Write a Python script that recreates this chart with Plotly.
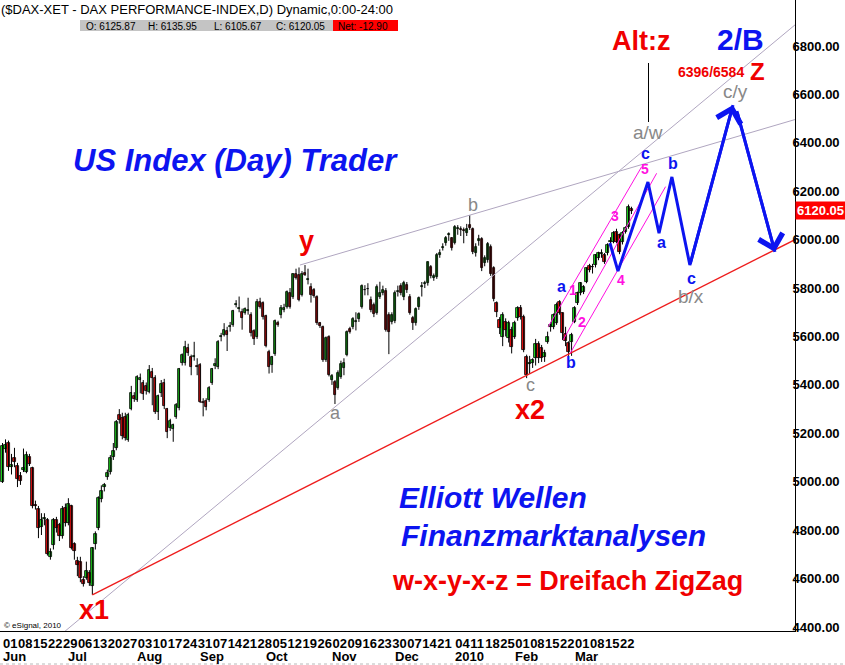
import pandas as pd
import plotly.graph_objects as go

FONT = "Arial, 'Liberation Sans', sans-serif"
GREEN = "#1ee01e"
RED = "#ec1010"
BLUE = "#0c14f0"
TRED = "#f00000"
GREY = "#888888"
MAG = "#ff10e0"
LINEGREY = "#b0a6c0"

# ---------------- data ----------------
holidays = {"2009-12-24", "2009-12-25", "2009-12-31", "2010-01-01"}
dates = [d.strftime("%Y-%m-%d") for d in pd.bdate_range("2009-06-01", "2010-03-26")
         if d.strftime("%Y-%m-%d") not in holidays]

opens = [
5001,5135,5158,5060,5098,5066,5024,5050,5042,5104,
5056,4905,4888,4815,4848,4843,4690,4739,4840,4822,
4774,4891,4829,4898,4742,4672,4670,4595,4601,4622,
4571,4742,4808,4928,4980,5021,5042,5104,5138,5275,
5262,5269,5172,5299,5354,5338,5420,5409,5396,5372,
5455,5427,5289,5365,5407,5299,5221,5218,5269,5303,
5489,5489,5551,5517,5515,5480,5482,5330,5335,5338,
5407,5478,5473,5598,5606,5623,5638,5647,5730,5713,
5700,5696,5707,5689,5624,5599,5744,5737,5685,5537,
5482,5526,5657,5689,5709,5723,5781,5764,5857,5854,
5771,5864,5834,5806,5792,5764,5654,5640,5503,5599,
5420,5413,5386,5434,5471,5524,5630,5640,5658,5671,
5723,5790,5797,5751,5730,5695,5764,5780,5789,5689,
5661,5665,5785,5808,5764,5812,5764,5675,5654,5720,
5805,5816,5819,5888,5840,5844,5938,5965,5985,6020,
6005,5985,6045,6042,6040,6026,6060,6043,5943,5995,
6001,5905,5916,5971,5881,5737,5668,5599,5661,5592,
5627,5599,5675,5716,5679,5517,5485,5492,5510,5569,
5551,5517,5578,5640,5640,5654,5744,5695,5610,5572,
5578,5661,5737,5778,5785,5826,5891,5885,5895,5923,
5940,5936,5943,5990,5992,6033,6019,5992,6033,6053,
6125.87]

highs = [
5160,5175,5170,5115,5140,5078,5040,5137,5125,5115,
5062,4922,4900,4870,4870,4850,4725,4850,4855,4830,
4900,4910,4932,4905,4750,4690,4690,4610,4670,4635,
4730,4795,4940,4985,4995,5050,5110,5160,5255,5300,
5285,5285,5285,5396,5370,5440,5447,5420,5410,5482,
5470,5440,5360,5420,5425,5305,5260,5240,5325,5470,
5530,5582,5570,5525,5578,5510,5490,5345,5345,5395,
5470,5510,5585,5615,5655,5640,5660,5710,5750,5765,
5715,5720,5760,5700,5630,5755,5760,5745,5690,5545,
5520,5670,5665,5730,5735,5790,5800,5862,5880,5885,
5870,5895,5880,5820,5800,5770,5660,5645,5600,5605,
5445,5420,5460,5500,5510,5625,5640,5680,5700,5700,
5815,5812,5820,5765,5740,5815,5826,5810,5800,5700,
5700,5790,5810,5820,5830,5825,5775,5685,5720,5765,
5825,5830,5910,5895,5860,5945,5960,5985,6015,6030,
6010,6060,6060,6055,6050,6065,6101,6050,5985,6020,
6010,5935,5990,5980,5890,5745,5680,5700,5675,5665,
5640,5665,5725,5730,5690,5525,5520,5510,5590,5580,
5565,5545,5620,5660,5695,5740,5750,5700,5640,5580,
5615,5725,5785,5825,5812,5885,5900,5900,5940,5950,
5960,5945,5985,6010,6035,6045,6025,6035,6055,6145,
6135.95]

lows = [
4995,5120,5045,5030,5060,4978,4987,5040,5035,5065,
4890,4885,4767,4780,4820,4695,4678,4720,4790,4755,
4765,4815,4820,4720,4678,4610,4585,4567,4595,4570,
4533,4720,4800,4915,4960,5008,5030,5090,5130,5240,
5175,5170,5165,5295,5330,5330,5365,5338,5360,5365,
5316,5280,5255,5350,5300,5180,5210,5165,5260,5295,
5480,5480,5520,5440,5500,5440,5325,5270,5295,5330,
5400,5465,5465,5580,5600,5540,5620,5640,5720,5700,
5628,5690,5690,5600,5565,5590,5715,5670,5555,5447,
5450,5520,5640,5675,5700,5715,5715,5755,5835,5745,
5765,5850,5815,5740,5760,5648,5635,5495,5495,5435,
5400,5321,5380,5425,5440,5518,5612,5630,5625,5660,
5715,5770,5770,5700,5680,5690,5755,5770,5620,5527,
5650,5655,5765,5770,5750,5780,5690,5627,5645,5710,
5765,5800,5810,5840,5830,5838,5925,5955,5975,5995,
5955,5980,6020,6015,5985,6015,6040,5940,5930,5975,
5870,5890,5905,5850,5745,5680,5610,5560,5600,5575,
5530,5590,5665,5670,5535,5428,5445,5470,5480,5490,
5495,5495,5570,5620,5630,5648,5690,5585,5560,5520,
5520,5655,5730,5770,5775,5820,5865,5860,5885,5915,
5925,5900,5935,5970,5985,5985,5940,5980,6025,6045,
6105.67]

closes = [
5148,5150,5060,5068,5082,5011,5005,5058,5111,5074,
4898,4898,4808,4843,4852,4701,4708,4843,4808,4774,
4887,4829,4907,4726,4716,4658,4601,4578,4632,4581,
4726,4783,4932,4962,4985,5035,5097,5125,5248,5255,
5187,5180,5276,5365,5340,5431,5427,5362,5376,5462,
5427,5289,5354,5404,5314,5207,5252,5234,5317,5464,
5524,5558,5530,5475,5521,5475,5331,5327,5307,5386,
5464,5485,5579,5604,5627,5606,5643,5705,5735,5717,
5675,5712,5710,5613,5588,5744,5723,5682,5561,5475,
5514,5664,5647,5719,5716,5785,5723,5857,5840,5751,
5858,5854,5838,5771,5767,5654,5643,5503,5592,5441,
5437,5358,5448,5486,5489,5620,5620,5671,5663,5693,
5808,5794,5795,5709,5693,5806,5778,5790,5627,5620,
5689,5778,5789,5781,5819,5792,5696,5654,5712,5757,
5810,5820,5906,5850,5850,5937,5943,5970,6005,6024,
5964,6051,6048,6038,6036,6043,6047,5950,5971,6001,
5881,5923,5980,5858,5753,5702,5636,5690,5627,5654,
5558,5657,5716,5682,5544,5441,5490,5503,5569,5510,
5510,5530,5599,5647,5689,5730,5695,5613,5580,5537,
5606,5716,5778,5819,5806,5881,5875,5888,5936,5943,
5945,5909,5978,5994,6029,5992,5950,6026,6047,6132.95,
6120.05]

tick_dates = ["2009-06-01","2009-06-08","2009-06-15","2009-06-22","2009-06-29",
              "2009-07-06","2009-07-13","2009-07-20","2009-07-27",
              "2009-08-03","2009-08-10","2009-08-17","2009-08-24","2009-08-31",
              "2009-09-07","2009-09-14","2009-09-21","2009-09-28",
              "2009-10-05","2009-10-12","2009-10-19","2009-10-26",
              "2009-11-02","2009-11-09","2009-11-16","2009-11-23","2009-11-30",
              "2009-12-07","2009-12-14","2009-12-21",
              "2010-01-04","2010-01-11","2010-01-18","2010-01-25",
              "2010-02-01","2010-02-08","2010-02-15","2010-02-22",
              "2010-03-01","2010-03-08","2010-03-15","2010-03-22"]
month_dates = ["2009-06-01","2009-07-01","2009-08-03","2009-09-01","2009-10-01",
               "2009-11-02","2009-12-01","2010-01-04","2010-02-01","2010-03-01"]
month_text = ["Jun","Jul","Aug","Sep","Oct","Nov","Dec","2010","Feb","Mar"]
price_ticks = [4400, 4600, 4800, 5000, 5200, 5400, 5600, 5800, 6000, 6200, 6400, 6600, 6800]

# trend lines (trading-day index, price)
red_line_x, red_line_y = [30, 264.6], [4533, 6000]
grey_low_x, grey_low_y = [20.9, 264.6], [4383, 6887]
grey_up_x, grey_up_y = [99.3, 264.6], [5895, 6496]
mag_up_x, mag_up_y = [182.2, 213.4], [5640, 6301]
mag_mid_x, mag_mid_y = [187.2, 218.4], [5586, 6274]
mag_low_x, mag_low_y = [189.5, 221.4], [5530, 6219]
# projected zigzag
zz_x = [202.8, 205.5, 215.5, 219.2, 223.5, 229.5, 243.9]
zz_y = [5986, 5870, 6238, 6027, 6259, 5895, 6556]
zz2_x = [245.2, 257.9]
zz2_y = [6531, 5949]

xidx = list(range(len(dates)))
tick_idx = [dates.index(d) for d in tick_dates]
tick_text = [d[-2:] for d in tick_dates]
month_idx = [dates.index(d) for d in month_dates]

# ---------------- figure ----------------
fig = go.Figure()

# wicks
wx, wy = [], []
for i, h, l in zip(xidx, highs, lows):
    wx += [i, i, None]
    wy += [l, h, None]
fig.add_trace(go.Scatter(x=wx, y=wy, mode="lines", line=dict(color="black", width=1),
                         showlegend=False, hoverinfo="skip"))
# bodies
body_base = [min(o, c) for o, c in zip(opens, closes)]
body_h = [abs(c - o) for o, c in zip(opens, closes)]
body_col = [GREEN if c >= o else RED for o, c in zip(opens, closes)]
fig.add_trace(go.Bar(x=xidx, y=body_h, base=body_base, width=0.8,
                     marker=dict(color=body_col, line=dict(color="black", width=0.8)),
                     showlegend=False, hoverinfo="skip"))

def line(xs, ys, color, width, dash="solid"):
    fig.add_trace(go.Scatter(x=xs, y=ys, mode="lines", line=dict(color=color, width=width, dash=dash),
                             showlegend=False, hoverinfo="skip"))

line(grey_low_x, grey_low_y, LINEGREY, 1)
line(grey_up_x, grey_up_y, LINEGREY, 1)
line(red_line_x, red_line_y, "#ee1c1c", 1.4)
line(mag_up_x, mag_up_y, MAG, 1)
line(mag_mid_x, mag_mid_y, MAG, 1)
line(mag_low_x, mag_low_y, MAG, 1)
line(zz_x, zz_y, BLUE, 3)
line(zz2_x, zz2_y, BLUE, 3)

W, H0 = 795.0, 631.0
def px(x, y):
    return x / W, (H0 - y) / H0

ann = []
def text(t, x, y, size, color, bold=False, italic=False, xanchor="center", family=FONT):
    s = t
    if italic:
        s = "<i>" + s + "</i>"
    if bold:
        s = "<b>" + s + "</b>"
    X, Y = px(x, y)
    ann.append(dict(text=s, x=X, y=Y, xref="paper", yref="paper", xanchor=xanchor, yanchor="middle",
                    showarrow=False, font=dict(family=family, size=size, color=color)))

text("($DAX-XET - DAX PERFORMANCE-INDEX,D) Dynamic,0:00-24:00", -1, 9, 13, "black", xanchor="left")
text("O: 6125.87", 84, 26, 10, "black", xanchor="left")
text("H: 6135.95", 146, 26, 10, "black", xanchor="left")
text("L: 6105.67", 212, 26, 10, "black", xanchor="left")
text("C: 6120.05", 274, 26, 10, "black", xanchor="left")
text("Net: -12.90", 336, 26, 10, "black", xanchor="left")

text("US Index (Day) Trader", 235, 160, 31, BLUE, bold=True, italic=True)
text("Elliott Wellen", 493, 497, 30, BLUE, bold=True, italic=True)
text("Finanzmarktanalysen", 553, 535, 30, BLUE, bold=True, italic=True)
text("w-x-y-x-z = Dreifach ZigZag", 567, 581, 27, TRED, bold=True)
text("x1", 94, 610, 27, TRED, bold=True)
text("x2", 530, 410, 27, TRED, bold=True)
text("y", 306, 241, 27, TRED, bold=True)
text("a", 335, 413, 18, GREY)
text("b", 473, 205, 18, GREY)
text("c", 530, 385, 18, GREY)
text("Alt:z", 641, 41, 27, TRED, bold=True)
text("2/B", 740, 40, 30, BLUE, bold=True)
text("6396/6584", 711, 72, 14, TRED, bold=True)
text("Z", 757, 72, 24, TRED, bold=True)
text("c/y", 735, 92, 19, GREY)
text("a/w", 648, 132, 19, GREY)
text("b/x", 691, 297, 19, GREY)
for t, x, y in [("c", 645, 153), ("b", 673, 163), ("a", 661, 242), ("c", 691, 278), ("a", 561, 287), ("b", 571, 362)]:
    text(t, x, y, 16, BLUE, bold=True)
for t, x, y in [("5", 645, 169), ("3", 615, 216), ("1", 573, 290), ("2", 582, 322), ("4", 621, 280)]:
    text(t, x, y, 14, MAG, bold=True)
text("\u00a9 eSignal, 2010", 2, 625, 8, "black", xanchor="left")

# month labels
for i, m in zip(month_idx, month_text):
    ann.append(dict(text="<b>" + m + "</b>", x=i, xref="x", y=(H0 - 656.5) / H0, yref="paper",
                    xanchor="left", yanchor="middle", showarrow=False, xshift=-2,
                    font=dict(family=FONT, size=13, color="black")))

# last price tag
ann.append(dict(text="<b>6120.05</b>", x=1, xref="paper", y=closes[-1], yref="y", xanchor="left",
                yanchor="middle", xshift=0, showarrow=False, bgcolor="#ff0000", borderpad=1,
                font=dict(family=FONT, size=13, color="white")))

# arrow heads of projection
ann.append(dict(x=zz_x[-1], y=zz_y[-1], ax=zz_x[-2], ay=zz_y[-2], xref="x", yref="y", axref="x", ayref="y",
                text="", showarrow=True, arrowhead=4, arrowsize=1.6, arrowwidth=3, arrowcolor=BLUE, standoff=0))
ann.append(dict(x=zz2_x[-1], y=zz2_y[-1], ax=zz2_x[0], ay=zz2_y[0], xref="x", yref="y", axref="x", ayref="y",
                text="", showarrow=True, arrowhead=4, arrowsize=1.6, arrowwidth=3, arrowcolor=BLUE, standoff=0))

shapes = []
def rect(x0, y0, x1, y1, color):
    X0, Y0 = px(x0, y0)
    X1, Y1 = px(x1, y1)
    shapes.append(dict(type="rect", xref="paper", yref="paper", x0=X0, y0=Y0, x1=X1, y1=Y1,
                       fillcolor=color, line=dict(width=0), layer="below"))
rect(80, 20, 333, 31, "#c4c4c4")
rect(333, 20, 398, 31, "#ff0000")
X0, Y0 = px(648.5, 63)
X1, Y1 = px(648.5, 122)
shapes.append(dict(type="line", xref="paper", yref="paper", x0=X0, y0=Y0, x1=X1, y1=Y1,
                   line=dict(color="black", width=1)))
X0, Y0 = px(0, 664)
X1, Y1 = px(845, 664)
shapes.append(dict(type="line", xref="paper", yref="paper", x0=X0, y0=Y0, x1=X1, y1=Y1,
                   line=dict(color="#b8b8b8", width=1, dash="dot")))

fig.update_layout(
    width=845, height=665, margin=dict(l=0, r=50, t=0, b=34),
    paper_bgcolor="white", plot_bgcolor="white", showlegend=False, bargap=0,
    annotations=ann, shapes=shapes,
    xaxis=dict(range=[-0.835, 264.6], showgrid=False, zeroline=False,
               showline=True, linecolor="black", linewidth=1, tickvals=tick_idx, ticktext=tick_text,
               ticks="", ticklen=0, tickangle=0, ticklabelposition="outside right", automargin=False,
               fixedrange=True, tickfont=dict(family=FONT, size=13, color="black", weight="bold")),
    yaxis=dict(range=[4383.5, 6989.8], side="right", showgrid=False, zeroline=False,
               showline=True, linecolor="black", linewidth=1, tickvals=price_ticks, tickformat=".2f",
               ticks="", ticklen=0, ticklabelstandoff=-6, automargin=False, fixedrange=True,
               tickfont=dict(family=FONT, size=13, color="black", weight="bold")),
)

fig.write_html("out.html", config={"displayModeBar": False},
               post_script="document.body.style.margin='0';document.body.style.padding='0';")
